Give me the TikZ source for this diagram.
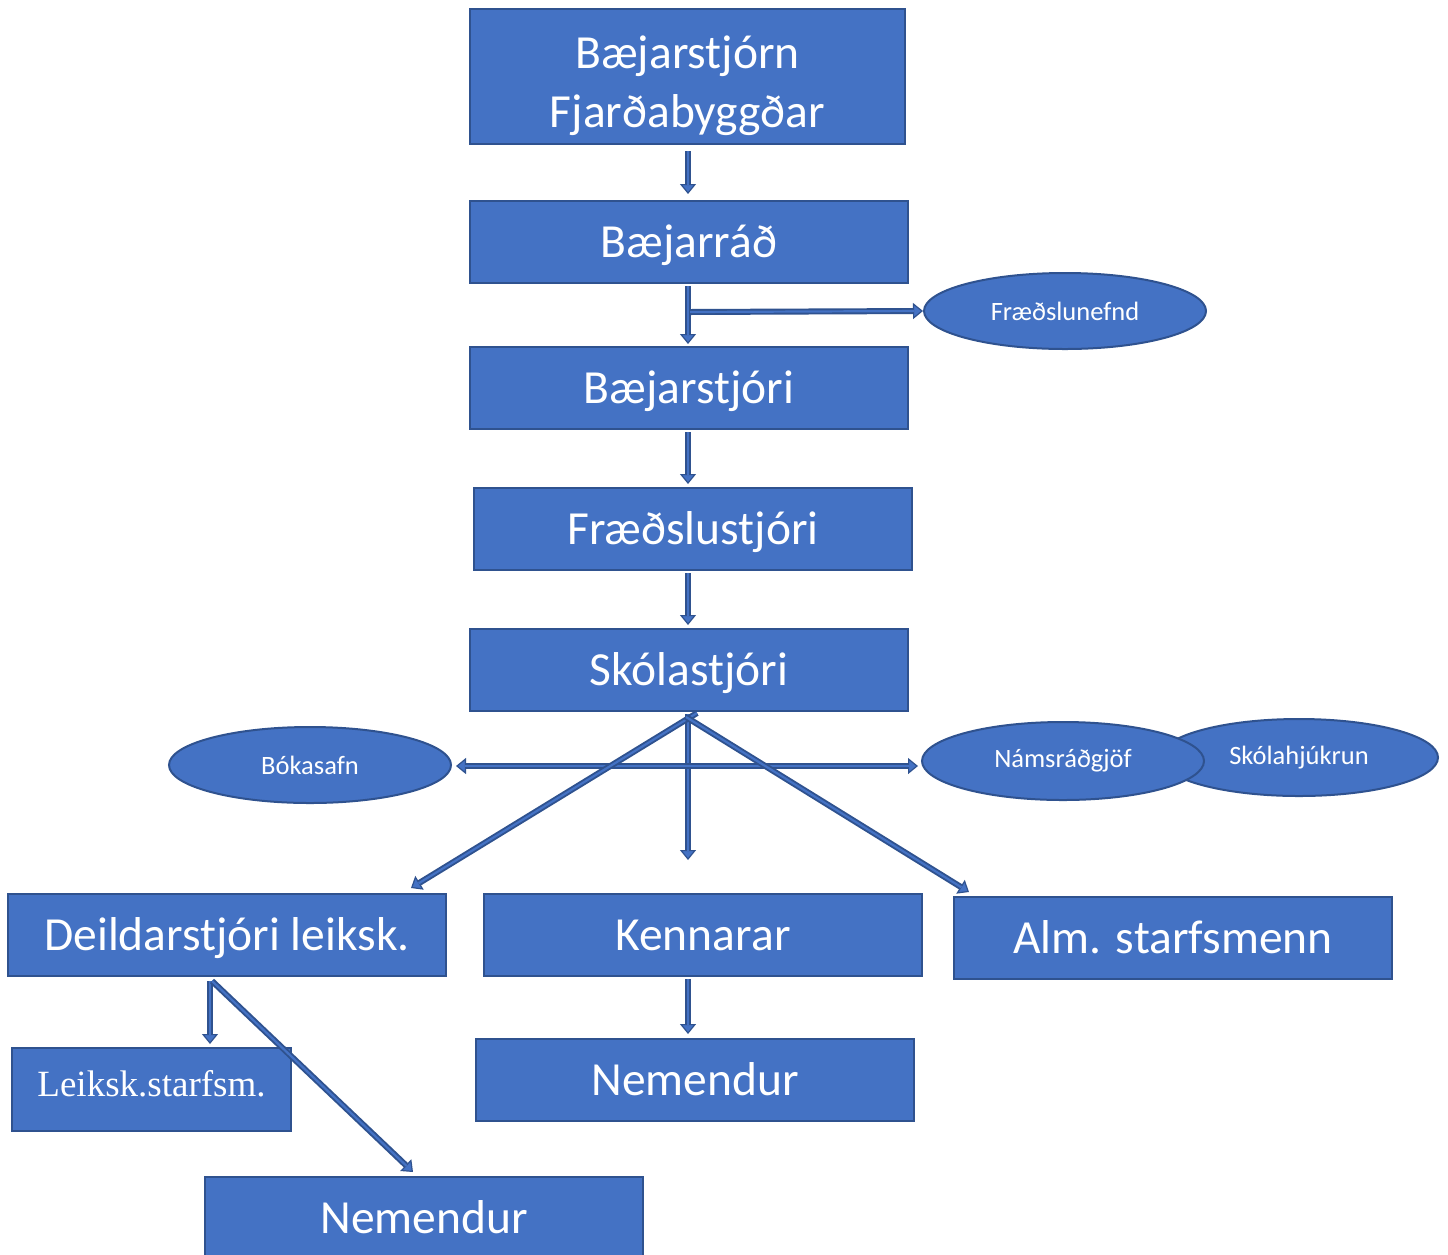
\documentclass[tikz,border=0pt]{standalone}
\usepackage{fontspec}
\setmainfont{Carlito}
\newfontfamily\serifx{Liberation Serif}
\usetikzlibrary{shapes.geometric,arrows.meta,calc}
\definecolor{mid}{HTML}{4472C4}
\definecolor{dk}{HTML}{2F528F}
\begin{document}
\begin{tikzpicture}[x=1pt,y=-1pt,
  box/.style={rectangle,draw=dk,fill=mid,line width=2pt,inner sep=0pt,
    minimum width=438pt,minimum height=82pt,text=white,
    text height=31pt,text depth=0pt,
    font=\fontsize{47.5}{58}\selectfont},
  oval/.style={ellipse,draw=dk,fill=mid,line width=2pt,inner sep=0pt,
    minimum width=282pt,minimum height=76pt,text=white,
    font=\fontsize{26.5}{30}\selectfont},
  tip/.tip={Triangle[width=16pt,length=10pt,fill=mid,line width=1.2pt]},
  conn/.style={draw=dk,line width=6pt,-tip,
    postaction={draw=mid,line width=2.2pt,-,shorten >=9pt}},
  conn2/.style={draw=dk,line width=6pt,tip-tip,
    postaction={draw=mid,line width=2.2pt,-,shorten >=9pt,shorten <=9pt}}]
\useasboundingbox[fill=white] (0,0) rectangle (1448,1254);

% boxes
\node[box,minimum width=435pt,minimum height=135pt,align=center,
  text height={},text depth={},font=\fontsize{47.5}{59}\selectfont] (b1) at (687.5,76.5)
  {\rule{0pt}{52pt}Bæjarstjórn\\Fjarðabyggðar};
\node[box] (b2) at (689,242) {Bæjarráð};
\node[box] (b3) at (689,388) {Bæjarstjóri};
\node[box] (b4) at (693,529) {Fræðslustjóri};
\node[box] (b5) at (689,670) {Skólastjóri};
\node[box] (deild) at (227,935) {Deildarstjóri leiksk.};
\node[box] (kenn) at (703,935) {Kennarar};
\node[box] (alm) at (1173,938) {Alm. starfsmenn};
\node[box,minimum width=279pt,minimum height=83pt,font=\serifx\fontsize{37}{40}\selectfont,text height=24pt,text depth=0pt] (leik) at (151.5,1089.5) {\raisebox{5pt}{Leiksk.starfsm.}};
\node[box] (nem1) at (695,1080) {Nemendur};
\node[box] (nem2) at (424,1218) {Nemendur};

% ellipses
\node[oval] (fn) at (1065,311) {Fræðslunefnd};
\node[oval] (bok) at (310,765) {Bókasafn};
\node[oval,minimum width=278pt,minimum height=77pt] (skh) at (1299,757.5) {Skólahjúkrun};
\node[oval,minimum height=78pt] (nam) at (1063,761) {Námsráðgjöf};

% connectors
\draw[conn] ($(b1.south)+(0.5,6)$) -- ($(b1.south |- b2.north)+(0.5,-6)$);
\draw[conn] ($(b2.south)+(-1,2)$) -- ($(b3.north)+(-1,-2)$);
\coordinate (jn) at ($(b2.south)+(1,28)$);
\draw[conn] (jn) -- (fn.west);
\draw[conn] ($(b3.south)+(-1,2)$) -- ($(b3.south |- b4.north)+(-1,-3)$);
\draw[conn] ($(b4.south -| b5.north)+(-1,2)$) -- ($(b5.north)+(-1,-3)$);
\coordinate (vend) at (688,860);
\draw[conn] ($(b5.south)+(-1,2)$) -- (vend);
\draw[conn2] ($(bok.east)+(4,1)$) -- ($(bok.east -| nam.west)+(-3,1)$);
\draw[conn] ($(b5.south)+(8,1)$) -- ($(deild.north east)+(-36,-5)$);
\draw[conn] ($(b5.south)+(-3,5)$) -- ($(alm.north west)+(16,-4)$);
\draw[conn] ($(kenn.south)+(-15,2)$) -- ($(kenn.south |- nem1.north)+(-15,-4)$);
\draw[conn] ($(deild.south)+(-17,4)$) -- ($(deild.south |- leik.north)+(-17,-3)$);
\draw[conn] ($(deild.south)+(-15,4)$) -- ($(nem2.north)+(-11,-4)$);
\end{tikzpicture}
\end{document}
